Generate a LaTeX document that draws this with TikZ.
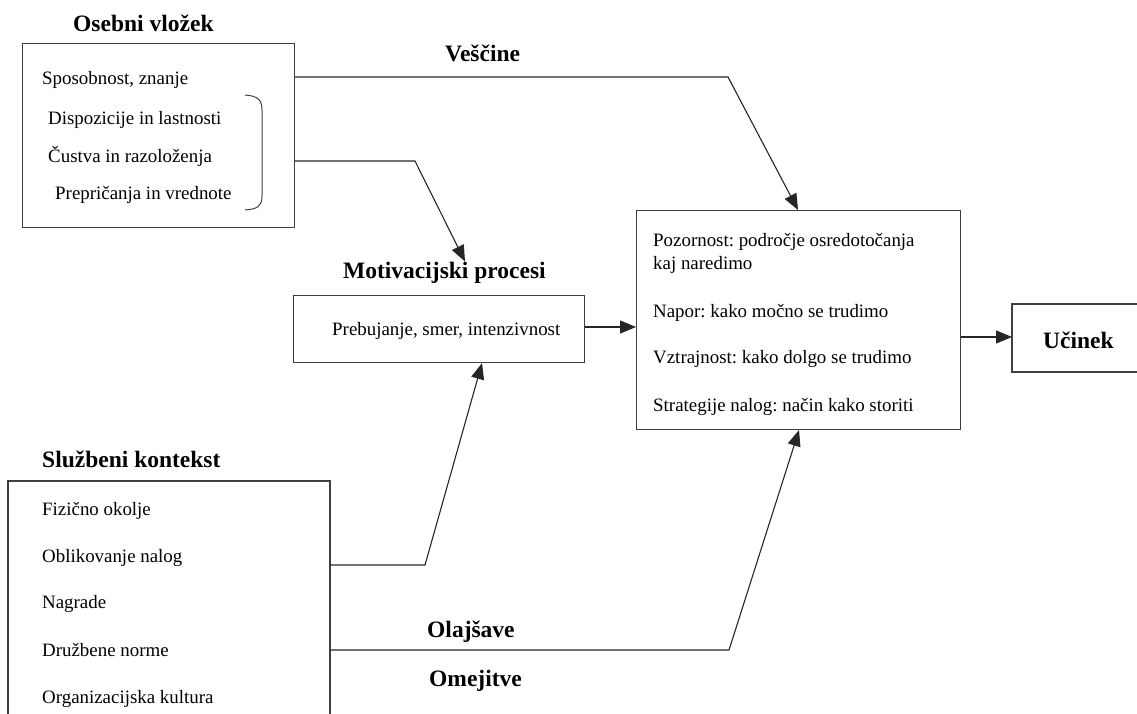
\documentclass[tikz,border=0pt]{standalone}
\usepackage{fontspec}
\setmainfont{Liberation Serif}
\usetikzlibrary{arrows.meta}
\frenchspacing
\tikzset{
  box/.style={draw=black!75, line width=1.1pt, rectangle, inner sep=0pt, anchor=north west},
  item/.style={anchor=base west, inner sep=0pt, font=\fontsize{18.9}{22}\selectfont},
  ttl/.style={anchor=base west, inner sep=0pt, font=\fontsize{23.5}{27}\selectfont\bfseries},
  conn/.style={draw=black!85, line width=1.1pt},
  arr/.style={conn, -{Triangle[length=16pt,width=13pt]}}
}
\begin{document}
\begin{tikzpicture}[x=1pt,y=-1pt]
\useasboundingbox (0,0) rectangle (1137,714);
% boxes
\node[box, minimum width=272pt, minimum height=184pt] (osebni) at (22,43) {};
\node[box, minimum width=291pt, minimum height=67pt] (motiv) at (293,295) {};
\node[box, minimum width=324pt, minimum height=219pt] (poz) at (636,210) {};
\coordinate (ucTL) at (1012,304);
\coordinate (ucBL) at (1012,372);
\draw[conn, draw=black!75] (1137,304) -- (ucTL) -- (ucBL) -- (1137,372);
\node[inner sep=0pt, minimum width=125pt, minimum height=68pt, anchor=north west] (ucinek) at (1012,304) {};
\coordinate (skTL) at (8,481);
\coordinate (skTR) at (330,481);
\draw[conn, draw=black!75] (8,714) -- (skTL) -- (skTR) -- (330,714);
\node[inner sep=0pt, minimum width=322pt, minimum height=233pt, anchor=north west] (sluz) at (8,481) {};
% titles
\node[ttl] (t1) at (73,32) {Osebni vložek};
\node[ttl] (t2) at (445,62) {Veščine};
\node[ttl] (t3) at (343,278) {Motivacijski procesi};
\node[ttl] (t4) at (1043,348) {Učinek};
\node[ttl] (t5) at (42,467) {Službeni kontekst};
\node[ttl] (t6) at (427,637) {Olajšave};
\node[ttl] (t7) at (429,686) {Omejitve};
% box 1 items
\node[item] (a1) at (42,85) {Sposobnost, znanje};
\node[item] (a2) at (48,125) {Dispozicije in lastnosti};
\node[item] (a3) at (48,163) {Čustva in razoloženja};
\node[item] (a4) at (55,200) {Prepričanja in vrednote};
\draw[black!75, line width=1pt] (245,95) .. controls (258,96) and (262,100) .. (262,110) -- (262,196) .. controls (262,206) and (258,209) .. (245,210);
% motiv
\node[item] (m1) at (332,335) {Prebujanje, smer, intenzivnost};
% box 2 items
\node[item] (p1) at (653,246) {Pozornost: področje osredotočanja};
\node[item] (p2) at (653,269) {kaj naredimo};
\node[item] (p3) at (653,317) {Napor: kako močno se trudimo};
\node[item] (p4) at (653,363) {Vztrajnost: kako dolgo se trudimo};
\node[item] (p5) at (653,411) {Strategije nalog: način kako storiti};
% box 3 items
\node[item] (s1) at (42,515) {Fizično okolje};
\node[item] (s2) at (42,562) {Oblikovanje nalog};
\node[item] (s3) at (42,608) {Nagrade};
\node[item] (s4) at (42,656) {Družbene norme};
\node[item] (s5) at (42,703) {Organizacijska kultura};
% connectors
\coordinate (k1) at (728,77);
\coordinate (k1t) at (798,0);
\draw[arr] (osebni.east |- k1) -- (k1) -- (poz.north -| k1t);
\coordinate (k2) at (415,161);
\coordinate (k2t) at (465,0);
\draw[arr] (osebni.east |- k2) -- (k2) -- (t3.north -| k2t);
\coordinate (k3) at (0,327);
\draw[arr] (motiv.east |- k3) -- (poz.west |- k3);
\coordinate (k4) at (0,337);
\draw[arr] (poz.east |- k4) -- (ucinek.west |- k4);
\coordinate (k5) at (425,565);
\coordinate (k5t) at (482,0);
\draw[arr] (sluz.east |- k5) -- (k5) -- (motiv.south -| k5t);
\coordinate (k6) at (729,650);
\coordinate (k6t) at (799,0);
\draw[arr] (sluz.east |- k6) -- (k6) -- (poz.south -| k6t);
\end{tikzpicture}
\end{document}
